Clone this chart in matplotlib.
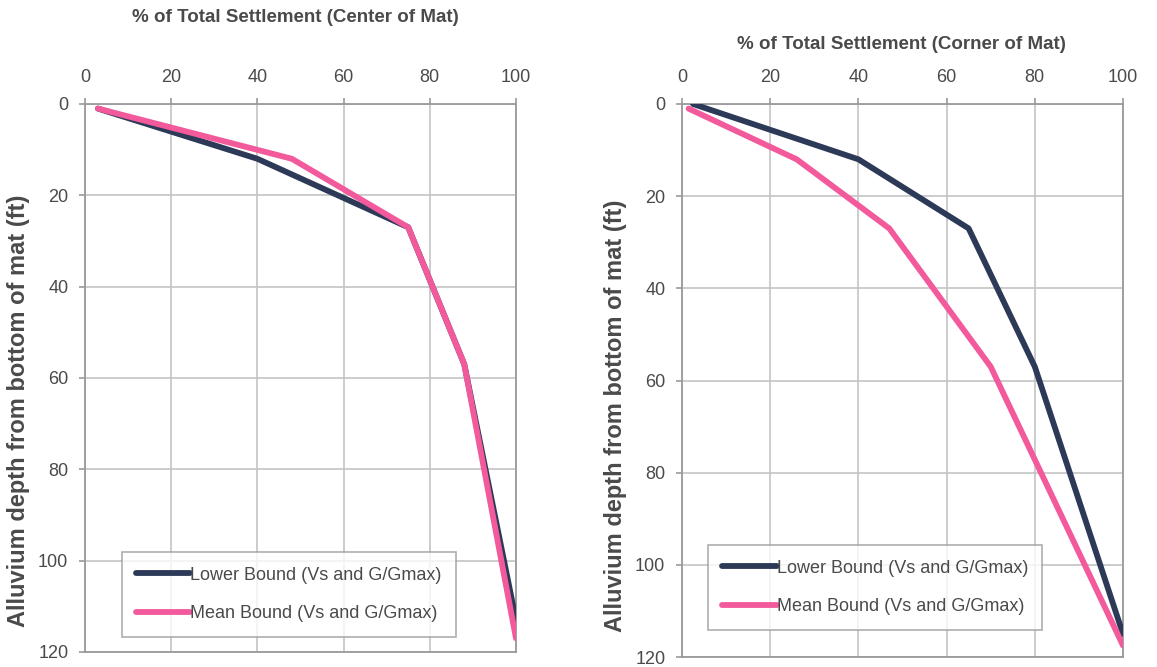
import matplotlib
matplotlib.use("Agg")
import matplotlib.pyplot as plt

plt.rcParams['font.family'] = ['Liberation Sans', 'DejaVu Sans']

# Data: (percent of total settlement, depth ft)
center_lower_x = [3, 40, 75, 88, 100]
center_lower_y = [1, 12, 27, 57, 113]
center_mean_x = [3, 48, 75, 88, 100]
center_mean_y = [1, 12, 27, 57, 117]

corner_lower_x = [2.5, 40, 65, 80, 100]
corner_lower_y = [0, 12, 27, 57, 115]
corner_mean_x = [1.5, 26, 47, 70, 100]
corner_mean_y = [1, 12, 27, 57, 117.5]

x_ticks = [0, 20, 40, 60, 80, 100]
y_ticks = [0, 20, 40, 60, 80, 100, 120]

labels = ["Lower Bound (Vs and G/Gmax)", "Mean Bound (Vs and G/Gmax)"]
titles = ["% of Total Settlement (Center of Mat)", "% of Total Settlement (Corner of Mat)"]
ylabel = "Alluvium depth from bottom of mat (ft)"

navy = '#2C3A58'
pink = '#F25A9C'
grid_c = '#C4C4C4'
spine_c = '#9A9A9A'
text_c = '#4A4A4A'

fig = plt.figure(figsize=(11.57, 6.67), dpi=100)
W, H = 1157, 667

def px_axes(l, t, r, b):
    return fig.add_axes([l / W, 1 - b / H, (r - l) / W, (b - t) / H])

ax1 = px_axes(85, 104, 516, 652)
ax2 = px_axes(682, 104, 1123, 657)

panels = [
    (ax1, center_lower_x, center_lower_y, center_mean_x, center_mean_y, titles[0],
     (0.487, 1.157), (-0.128, 0.44), (0.085, 0.028)),
    (ax2, corner_lower_x, corner_lower_y, corner_mean_x, corner_mean_y, titles[1],
     (0.497, 1.107), (-0.125, 0.437), (0.059, 0.049)),
]

for ax, lx, ly, mx, my, title, tpos, ypos, legpos in panels:
    ax.plot(lx, ly, color=navy, lw=4.2, solid_capstyle='round', solid_joinstyle='round',
            label=labels[0], zorder=3)
    ax.plot(mx, my, color=pink, lw=4.2, solid_capstyle='round', solid_joinstyle='round',
            label=labels[1], zorder=4)
    ax.set_xlim(0, 100)
    ax.set_ylim(120, 0)
    ax.set_xticks(x_ticks)
    ax.set_yticks(y_ticks)
    ax.xaxis.tick_top()
    ax.grid(True, color=grid_c, lw=1.2, zorder=0)
    ax.set_axisbelow(True)
    for s in ax.spines.values():
        s.set_color(spine_c)
        s.set_linewidth(1.3)
    ax.tick_params(axis='x', top=True, bottom=False, direction='out', length=4,
                   width=1.2, color=spine_c, labelsize=13, labelcolor=text_c, pad=9)
    ax.tick_params(axis='y', direction='out', length=4, width=1.2, color=spine_c,
                   labelsize=13, labelcolor=text_c, pad=8)
    ax.text(tpos[0], tpos[1], title, transform=ax.transAxes, ha='center', va='center',
            fontsize=13.5, fontweight='bold', color=text_c)
    ax.set_ylabel(ylabel, fontsize=17, fontweight='bold', color=text_c)
    ax.yaxis.set_label_coords(ypos[0], ypos[1])
    leg = ax.legend(loc='lower left', bbox_to_anchor=legpos, frameon=True, fancybox=False,
                    edgecolor=spine_c, fontsize=13, handlelength=3.0, handletextpad=0.0,
                    labelspacing=1.2, borderpad=0.8, borderaxespad=0)
    leg.get_frame().set_linewidth(1.2)
    for t in leg.get_texts():
        t.set_color(text_c)

fig.savefig("out.png", dpi=100, facecolor='white')
